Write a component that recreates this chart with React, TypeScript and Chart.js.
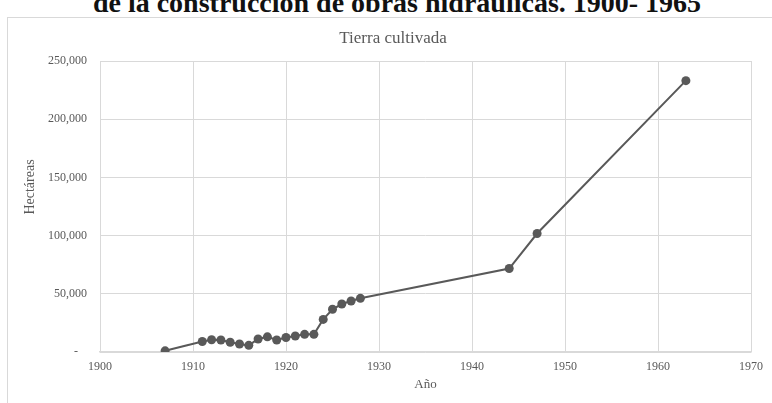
import React, { useEffect, useRef } from 'react';
import { Chart, registerables } from 'chart.js';

Chart.register(...registerables);

const years = [1907, 1911, 1912, 1913, 1914, 1915, 1916, 1917, 1918, 1919, 1920, 1921, 1922, 1923, 1924, 1925, 1926, 1927, 1928, 1944, 1947, 1963];
const hectares = [1000, 9000, 10500, 10300, 8400, 6900, 5700, 11200, 13000, 10300, 12500, 13700, 15200, 15200, 28000, 36700, 41200, 43800, 46100, 71700, 101800, 233100];

const X_MIN = 1900;
const X_MAX = 1970;
const X_STEP = 10;
const Y_MIN = 0;
const Y_MAX = 250000;
const Y_STEP = 50000;

const PAGE_TITLE = 'de la construcción de obras hidráulicas. 1900- 1965';
const CHART_TITLE = 'Tierra cultivada';
const X_TITLE = 'Año';
const Y_TITLE = 'Hectáreas';

const SERIF = '"Liberation Serif", "Times New Roman", serif';
const TEXT = '#595959';
const GRID = '#d9d9d9';
const LINE = '#595959';

const textPlugin = {
  id: 'textPlugin',
  afterDraw(chart: any) {
    const ctx = chart.ctx;
    const a = chart.chartArea;
    ctx.save();
    ctx.fillStyle = TEXT;
    ctx.textAlign = 'center';
    ctx.textBaseline = 'middle';
    ctx.font = `17px ${SERIF}`;
    ctx.fillText(CHART_TITLE, 393, 39);
    ctx.font = `13px ${SERIF}`;
    ctx.fillText(X_TITLE, (a.left + a.right) / 2, 385);
    ctx.font = `14px ${SERIF}`;
    ctx.translate(30, 187);
    ctx.rotate(-Math.PI / 2);
    ctx.fillText(Y_TITLE, 0, 0);
    ctx.restore();
  },
};

export default function App() {
  const ref = useRef<HTMLCanvasElement>(null);
  useEffect(() => {
    if (!ref.current) return;
    const chart = new Chart(ref.current, {
      type: 'line',
      data: {
        datasets: [
          {
            data: years.map((y, i) => ({ x: y, y: hectares[i] })),
            borderColor: LINE,
            backgroundColor: LINE,
            borderWidth: 2,
            pointRadius: 4.5,
            pointBorderWidth: 0,
            pointBackgroundColor: LINE,
            tension: 0,
          },
        ],
      },
      options: {
        animation: false,
        responsive: false,
        layout: { padding: { left: 0, right: 21, top: 61, bottom: 0 } },
        plugins: {
          legend: { display: false },
          tooltip: { enabled: false },
          title: { display: false },
        },
        scales: {
          x: {
            type: 'linear',
            min: X_MIN,
            max: X_MAX,
            ticks: {
              stepSize: X_STEP,
              callback: (v: any) => String(v),
              padding: 8,
              color: TEXT,
              font: { family: SERIF, size: 12 },
              maxRotation: 0,
            },
            grid: { color: GRID, drawTicks: false, lineWidth: 1 },
            border: { color: GRID, width: 1.5 },
            afterFit: (s: any) => {
              s.height = 51;
            },
          },
          y: {
            min: Y_MIN,
            max: Y_MAX,
            ticks: {
              stepSize: Y_STEP,
              callback: (v: any) => (Number(v) === 0 ? '-   ' : Number(v).toLocaleString('en-US')),
              padding: 13,
              color: TEXT,
              font: { family: SERIF, size: 12 },
            },
            grid: { color: GRID, drawTicks: false, lineWidth: 1 },
            border: { display: false },
            afterFit: (s: any) => {
              s.width = 100;
            },
          },
        },
      },
      plugins: [textPlugin],
    });
    return () => chart.destroy();
  }, []);

  return (
    <div style={{ position: 'fixed', left: 0, top: 0, width: 772, height: 403, overflow: 'hidden', background: '#fff' }}>
      <div
        style={{
          position: 'absolute',
          left: 7,
          top: 17,
          width: 800,
          height: 420,
          borderLeft: `1px solid ${GRID}`,
          borderTop: `1px solid ${GRID}`,
        }}
      />
      <div
        style={{
          position: 'absolute',
          left: 0,
          width: 794,
          top: -12,
          textAlign: 'center',
          fontFamily: SERIF,
          fontWeight: 'bold',
          fontSize: 28,
          lineHeight: '30px',
          color: '#111',
          whiteSpace: 'nowrap',
        }}
      >
        {PAGE_TITLE}
      </div>
      <canvas ref={ref} width={772} height={403} style={{ position: 'absolute', left: 0, top: 0, display: 'block' }} />
    </div>
  );
}
